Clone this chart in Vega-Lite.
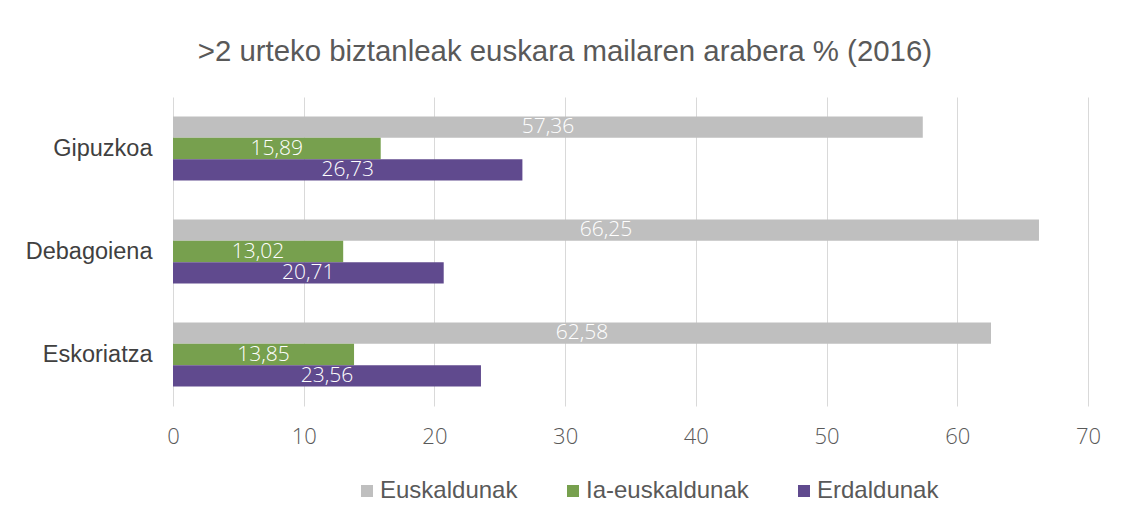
{
  "$schema": "https://vega.github.io/schema/vega-lite/v6.json",
  "width": 915,
  "height": 309,
  "autosize": {"type": "none"},
  "padding": {"left": 173, "top": 97, "right": 33, "bottom": 113},
  "background": "white",
  "title": {
    "text": ">2 urteko biztanleak euskara mailaren arabera % (2016)",
    "font": "Liberation Sans",
    "fontSize": 29.4,
    "fontWeight": "normal",
    "color": "#595959",
    "anchor": "middle",
    "frame": "bounds",
    "dx": 2,
    "offset": 30
  },
  "config": {
    "locale": {"number": {"decimal": ",", "thousands": ".", "grouping": [3], "currency": ["", " €"]}},
    "view": {"stroke": null}
  },
  "data": {
    "values": [
      {"eremua": "Gipuzkoa", "maila": "Euskaldunak", "v": 57.36},
      {"eremua": "Gipuzkoa", "maila": "Ia-euskaldunak", "v": 15.89},
      {"eremua": "Gipuzkoa", "maila": "Erdaldunak", "v": 26.73},
      {"eremua": "Debagoiena", "maila": "Euskaldunak", "v": 66.25},
      {"eremua": "Debagoiena", "maila": "Ia-euskaldunak", "v": 13.02},
      {"eremua": "Debagoiena", "maila": "Erdaldunak", "v": 20.71},
      {"eremua": "Eskoriatza", "maila": "Euskaldunak", "v": 62.58},
      {"eremua": "Eskoriatza", "maila": "Ia-euskaldunak", "v": 13.85},
      {"eremua": "Eskoriatza", "maila": "Erdaldunak", "v": 23.56}
    ]
  },
  "encoding": {
    "y": {
      "field": "eremua",
      "type": "nominal",
      "sort": ["Gipuzkoa", "Debagoiena", "Eskoriatza"],
      "scale": {"paddingInner": 0.38, "paddingOuter": 0.19},
      "axis": {
        "title": null,
        "domain": false,
        "ticks": false,
        "labelFont": "Liberation Sans",
        "labelFontSize": 23.5,
        "labelColor": "#404040",
        "labelPadding": 21
      }
    },
    "yOffset": {
      "field": "maila",
      "type": "nominal",
      "sort": ["Euskaldunak", "Ia-euskaldunak", "Erdaldunak"],
      "scale": {"paddingInner": 0, "paddingOuter": 0}
    }
  },
  "layer": [
    {
      "mark": {"type": "bar"},
      "encoding": {
        "x": {
          "field": "v",
          "type": "quantitative",
          "scale": {"domain": [0, 70], "nice": false},
          "axis": {
            "title": null,
            "values": [0, 10, 20, 30, 40, 50, 60, 70],
            "format": "d",
            "grid": true,
            "gridColor": "#D9D9D9",
            "gridWidth": 1,
            "domain": false,
            "ticks": false,
            "labelFlush": false,
            "labelFont": "Open Sans",
            "labelFontWeight": 300,
            "labelFontSize": 22,
            "labelColor": "#595959",
            "labelPadding": 20
          }
        },
        "color": {
          "field": "maila",
          "type": "nominal",
          "sort": ["Euskaldunak", "Ia-euskaldunak", "Erdaldunak"],
          "scale": {
            "domain": ["Euskaldunak", "Ia-euskaldunak", "Erdaldunak"],
            "range": ["#BFBFBF", "#77A04E", "#604A8E"]
          },
          "legend": {
            "title": null,
            "orient": "none",
            "direction": "horizontal",
            "legendX": 182,
            "legendY": 382,
            "padding": 0,
            "symbolType": "square",
            "symbolSize": 144,
            "symbolStrokeWidth": 0,
            "labelFont": "Liberation Sans",
            "labelFontSize": 24,
            "labelColor": "#595959",
            "labelOffset": 1,
            "labelLimit": 400,
            "columnPadding": 43
          }
        }
      }
    },
    {
      "mark": {
        "type": "text",
        "color": "white",
        "font": "Open Sans",
        "fontWeight": 300,
        "fontSize": 21,
        "align": "center",
        "baseline": "middle"
      },
      "encoding": {
        "x": {
          "field": "v",
          "type": "quantitative",
          "scale": {"domain": [0, 140], "nice": false},
          "axis": null
        },
        "text": {"field": "v", "type": "quantitative", "format": ".2f"}
      }
    }
  ],
  "resolve": {"scale": {"x": "independent"}}
}
